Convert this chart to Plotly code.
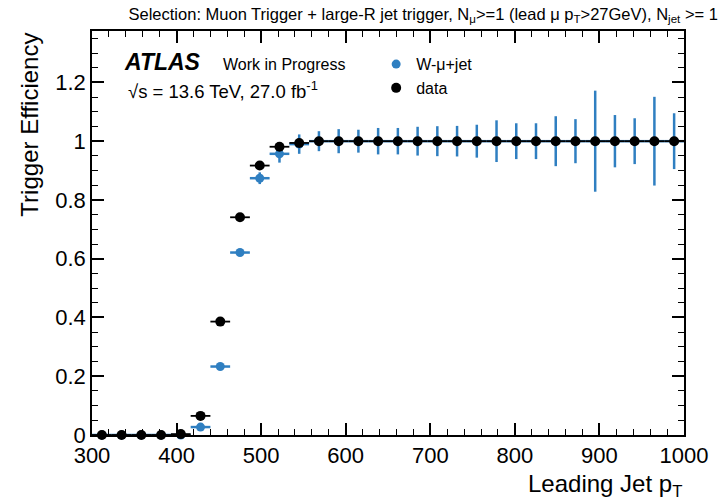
import plotly.graph_objects as go

# ---- data ----
bin_lo = 300.0
bin_w = 700.0 / 30
pt_centers = [bin_lo + bin_w * (i + 0.5) for i in range(30)]
pt_halfwidth = [bin_w / 2] * 30

data_eff = [0.0, 0.0, 0.0, 0.0, 0.003, 0.065, 0.386, 0.741, 0.917, 0.981,
            0.994, 1.0, 1.0, 1.0, 1.0, 1.0, 1.0, 1.0, 1.0, 1.0,
            1.0, 1.0, 1.0, 1.0, 1.0, 1.0, 1.0, 1.0, 1.0, 1.0]
data_err = [0.001, 0.001, 0.001, 0.001, 0.002, 0.004, 0.005, 0.005, 0.004, 0.003,
            0.002, 0.001, 0.001, 0.001, 0.001, 0.001, 0.001, 0.001, 0.001, 0.001,
            0.001, 0.001, 0.001, 0.001, 0.001, 0.001, 0.001, 0.001, 0.001, 0.001]

mc_eff = [0.0, 0.0, 0.0, 0.0, 0.0, 0.027, 0.233, 0.621, 0.874, 0.957,
          0.99, 1.0, 1.0, 1.0, 1.0, 1.0, 1.0, 1.0, 1.0, 1.0,
          1.0, 1.0, 1.0, 1.0, 1.0, 1.0, 1.0, 1.0, 1.0, 1.0]
mc_err = [0.001, 0.001, 0.001, 0.001, 0.002, 0.008, 0.01, 0.012, 0.02, 0.03,
          0.033, 0.034, 0.041, 0.039, 0.045, 0.045, 0.049, 0.051, 0.052, 0.056,
          0.071, 0.061, 0.061, 0.085, 0.075, 0.172, 0.089, 0.078, 0.151, 0.095]

x_ticks = [300, 400, 500, 600, 700, 800, 900, 1000]
y_ticks = [0, 0.2, 0.4, 0.6, 0.8, 1.0, 1.2]
y_ticklabels = ["0", "0.2", "0.4", "0.6", "0.8", "1", "1.2"]

BLUE = "#2f7fc1"
FONT = "Liberation Sans, Arial, Helvetica, sans-serif"

fig = go.Figure()
fig.add_trace(go.Scatter(
    x=pt_centers, y=mc_eff, mode="markers", name="W-μ+jet",
    marker=dict(color=BLUE, size=9),
    error_y=dict(type="data", array=mc_err, color=BLUE, thickness=2.5, width=0),
    error_x=dict(type="data", array=pt_halfwidth, color=BLUE, thickness=2.5, width=0),
    cliponaxis=False,
))
fig.add_trace(go.Scatter(
    x=pt_centers, y=data_eff, mode="markers", name="data",
    marker=dict(color="black", size=10),
    error_y=dict(type="data", array=data_err, color="black", thickness=1.5, width=0),
    error_x=dict(type="data", array=pt_halfwidth, color="black", thickness=1.8, width=0),
    cliponaxis=False,
))

axis_common = dict(
    showline=True, linecolor="black", linewidth=1.5, mirror="ticks",
    ticks="inside", ticklen=12, tickwidth=1.5, tickcolor="black",
    showgrid=False, zeroline=False,
    tickfont=dict(family=FONT, size=22, color="black"),
)

fig.update_xaxes(
    range=[300, 1000], tickvals=x_ticks, **axis_common,
    minor=dict(ticks="inside", ticklen=6, tickwidth=1.2, tickcolor="black", dtick=20, tick0=300, showgrid=False),
)
fig.update_yaxes(
    range=[0, 1.375], tickvals=y_ticks, ticktext=y_ticklabels, **axis_common,
    minor=dict(ticks="inside", ticklen=6, tickwidth=1.2, tickcolor="black", dtick=0.05, tick0=0, showgrid=False),
)

fig.update_layout(
    width=723, height=504,
    margin=dict(l=92, r=39, t=31, b=69),
    paper_bgcolor="white", plot_bgcolor="white",
    font=dict(family=FONT, color="black"),
    showlegend=True,
    legend=dict(x=0.48, y=0.96, xanchor="left", yanchor="top",
                bgcolor="rgba(0,0,0,0)", font=dict(size=16, family=FONT),
                itemwidth=30, tracegroupgap=0),
    title=dict(
        text="Selection: Muon Trigger + large-R jet trigger, N<sub>μ</sub>>=1 (lead μ p<sub>T</sub>>27GeV), N<sub>jet</sub> >= 1",
        x=0.993, xanchor="right", xref="container",
        y=0.972, yanchor="middle", yref="container",
        font=dict(size=16.5, family=FONT, color="black"),
    ),
    annotations=[
        dict(text="<b><i>ATLAS</i></b>", x=0.05, y=0.924, xref="paper", yref="paper",
             xanchor="left", yanchor="middle", showarrow=False,
             font=dict(size=23, family=FONT)),
        dict(text="Work in Progress", x=0.218, y=0.917, xref="paper", yref="paper",
             xanchor="left", yanchor="middle", showarrow=False,
             font=dict(size=16, family=FONT)),
        dict(text="√s = 13.6 TeV, 27.0 fb<sup>-1</sup>", x=0.058, y=0.853, xref="paper", yref="paper",
             xanchor="left", yanchor="middle", showarrow=False,
             font=dict(size=18.5, family=FONT)),
        dict(text="Leading Jet p<sub>T</sub>", x=1.0, y=-0.125, xref="paper", yref="paper",
             xanchor="right", yanchor="middle", showarrow=False,
             font=dict(size=24, family=FONT)),
        dict(text="Trigger Efficiency", x=-0.107, y=1.0, xref="paper", yref="paper",
             xanchor="center", yanchor="top", textangle=-90, showarrow=False,
             font=dict(size=24, family=FONT)),
    ],
)

fig.write_html("out.html")
